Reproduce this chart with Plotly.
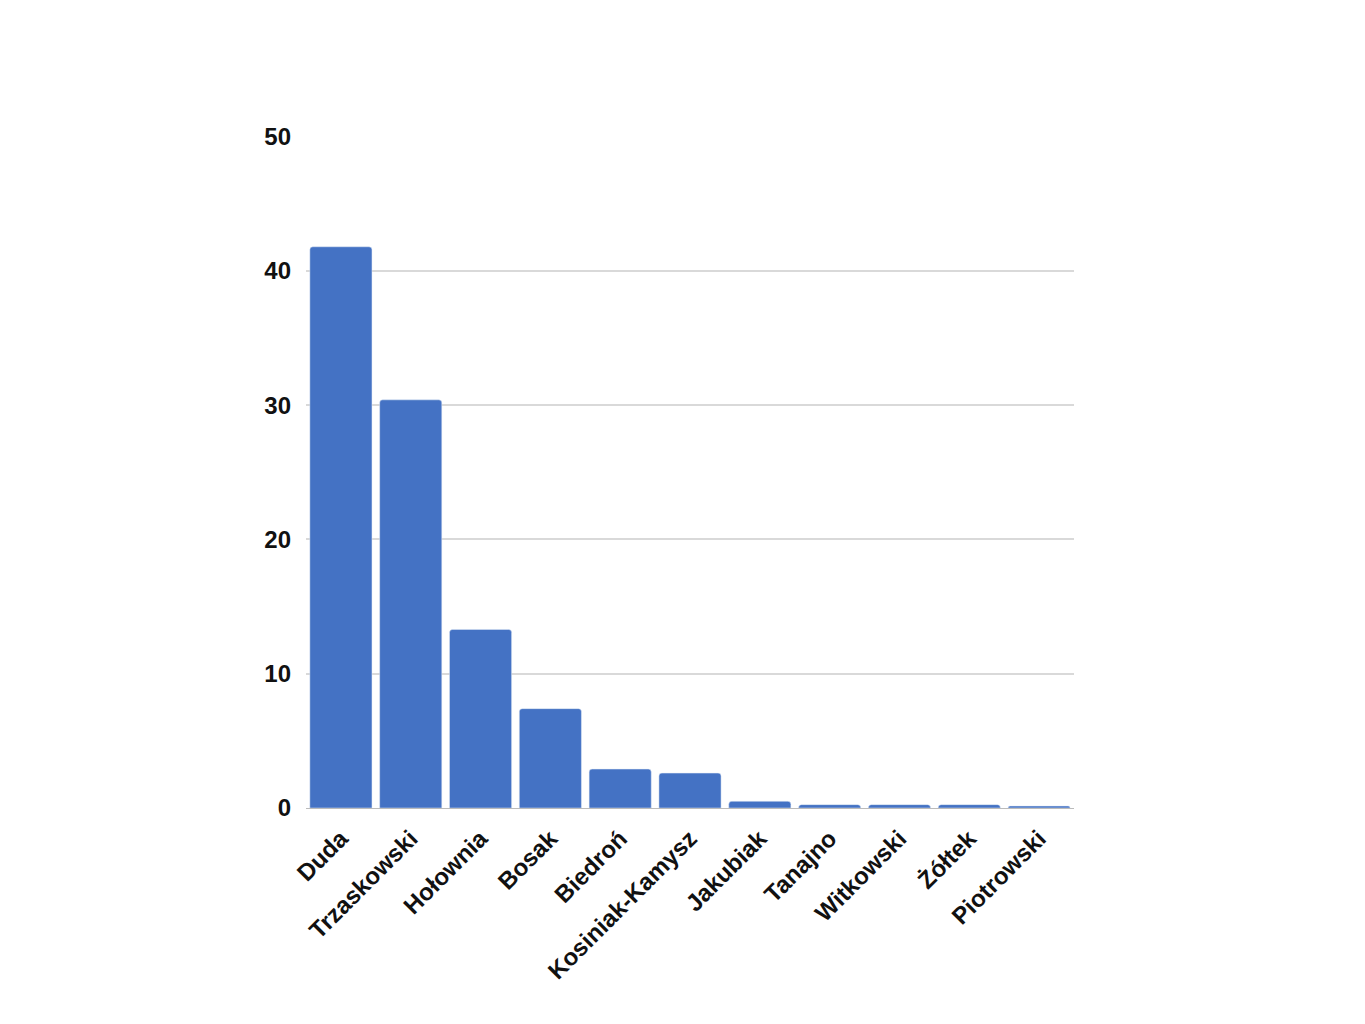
import plotly.graph_objects as go

candidates = ["Duda", "Trzaskowski", "Hołownia", "Bosak", "Biedroń", "Kosiniak-Kamysz",
              "Jakubiak", "Tanajno", "Witkowski", "Żółtek", "Piotrowski"]
values = [41.8, 30.4, 13.3, 7.4, 2.9, 2.6, 0.5, 0.25, 0.25, 0.25, 0.15]
y_ticks = [0, 10, 20, 30, 40, 50]

fig = go.Figure(go.Bar(x=candidates, y=values, marker=dict(color="#4472c4", cornerradius=3),
                       hoverinfo="x+y"))
fig.update_layout(
    width=1365, height=1024, plot_bgcolor="white", paper_bgcolor="white",
    margin=dict(l=298, r=299, t=128, b=224), bargap=0.11, showlegend=False,
    font=dict(family="Liberation Sans, Arial, sans-serif", size=24, color="#111"),
)
fig.update_xaxes(tickangle=-45, tickfont=dict(size=24, weight="bold"), showline=True,
                 linecolor="#bbb", ticks="", ticklabelstandoff=6)
fig.update_yaxes(range=[0, 50.05], tickvals=y_ticks, showgrid=True, gridcolor="#d9d9d9",
                 gridwidth=1.5, zeroline=False, tickfont=dict(size=24, weight="bold"),
                 ticklabelstandoff=14)
fig.write_html("out.html")
